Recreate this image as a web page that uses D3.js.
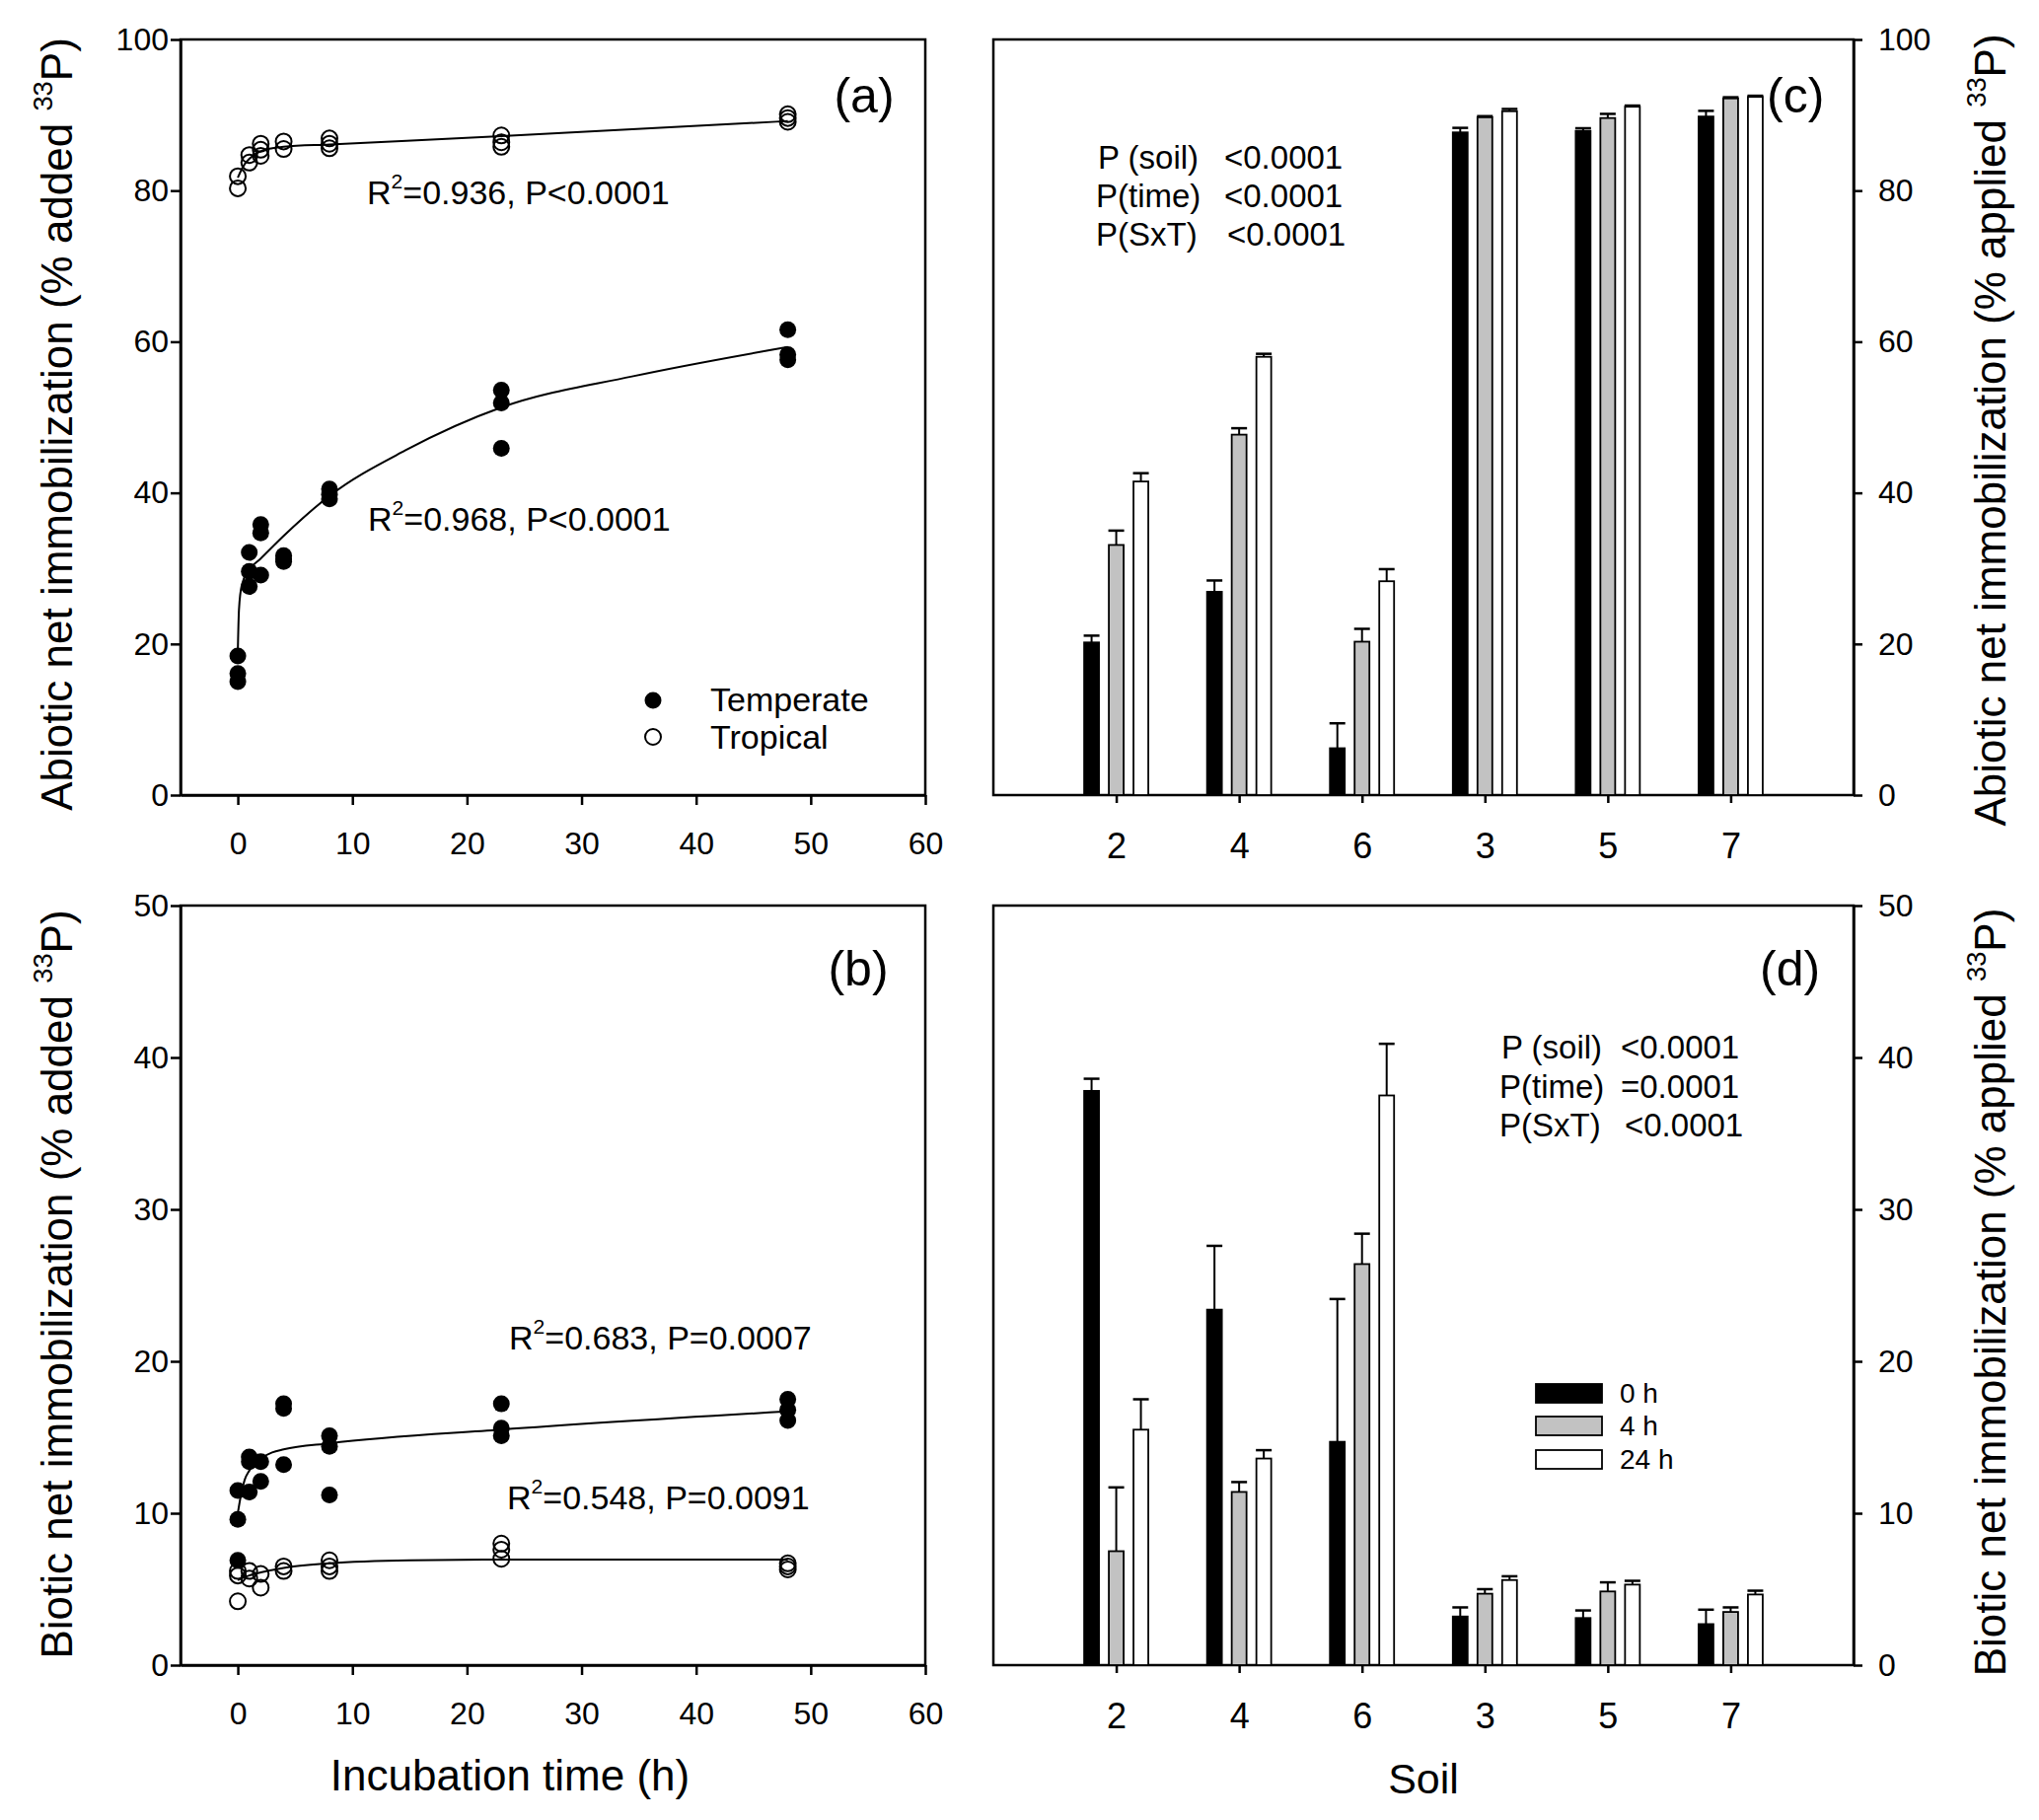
<!DOCTYPE html>
<html>
<head>
<meta charset="utf-8">
<script src="https://cdn.jsdelivr.net/npm/d3@7"></script>
<style>
  body { margin: 0; background: #fff; }
  svg { display: block; }
  text { font-family: "Liberation Sans", Arial, sans-serif; fill: #000; }
</style>
</head>
<body>
<svg id="chart" width="2067" height="1845"></svg>
<script>
// ---- data ----
const times = [0, 1, 2, 4, 8, 23, 48];

// (a) abiotic, individual replicates
const abioticTemperate = [[18.4, 16.1, 15.0], [32.1, 29.6, 27.6], [35.8, 34.7, 29.1], [31.7, 31.2, 30.9], [40.5, 39.8, 39.2], [53.6, 51.9, 45.9], [61.6, 58.3, 57.6]];
const abioticTropical = [[81.9, 80.3], [84.7, 83.7], [86.2, 85.4, 84.6], [86.5, 85.5], [86.9, 86.2, 85.6], [87.3, 86.4, 85.8], [90.1, 89.6, 89.1]];
// (b) biotic, individual replicates
const bioticTemperate = [[11.5, 9.6, 6.9], [13.7, 13.4, 11.4], [13.4, 12.1], [17.2, 16.9, 13.2], [15.1, 14.4, 11.2], [17.2, 15.6, 15.1], [17.5, 16.8, 16.1]];
const bioticTropical = [[6.2, 5.9, 4.2], [6.2, 5.7], [6.0, 5.1], [6.5, 6.2], [6.9, 6.5, 6.2], [8.0, 7.6, 7.0], [6.7, 6.5, 6.3]];

// fitted curves, read as points along the drawn lines
const fitTempA_x = [0, 0.1, 0.35, 1, 2, 4, 8, 14.6, 23, 34.4, 48];
const fitTempA_y = [19, 24.5, 27.8, 29.8, 31.3, 34.3, 39.6, 45.6, 51.3, 55.4, 59.3];
const fitTropA_x = [0, 0.3, 0.6, 1, 1.5, 2, 3, 4, 8, 23, 48];
const fitTropA_y = [81.7, 82.7, 83.5, 84.2, 84.8, 85.2, 85.6, 85.8, 86.1, 87.2, 89.2];
const fitTempB_x = [0, 0.3, 0.6, 1, 1.5, 2, 3, 4, 8, 23, 48];
const fitTempB_y = [10.0, 11.3, 12.2, 12.8, 13.3, 13.6, 14.0, 14.2, 14.6, 15.5, 16.7];
const fitTropB_x = [0, 1, 2, 4, 8, 15, 23, 48];
const fitTropB_y = [5.6, 5.9, 6.1, 6.4, 6.7, 6.9, 6.95, 6.95];

// (c) and (d) bar charts
const soils = ["2", "4", "6", "3", "5", "7"];
const hours = ["0 h", "4 h", "24 h"];
const abiotic0h = [20.2, 26.9, 6.2, 87.7, 87.9, 89.8];
const abiotic4h = [33.1, 47.7, 20.3, 89.7, 89.6, 92.2];
const abiotic24h = [41.5, 58.0, 28.3, 90.5, 91.1, 92.4];
const abioticErr0h = [0.9, 1.5, 3.3, 0.6, 0.35, 0.75];
const abioticErr4h = [1.9, 0.85, 1.7, 0.15, 0.55, 0.15];
const abioticErr24h = [1.1, 0.4, 1.6, 0.3, 0.15, 0.15];
const biotic0h = [37.8, 23.4, 14.7, 3.2, 3.1, 2.7];
const biotic4h = [7.5, 11.4, 26.4, 4.7, 4.85, 3.5];
const biotic24h = [15.5, 13.6, 37.5, 5.6, 5.3, 4.65];
const bioticErr0h = [0.8, 4.2, 9.4, 0.6, 0.5, 0.95];
const bioticErr4h = [4.2, 0.65, 2.0, 0.3, 0.6, 0.3];
const bioticErr24h = [2.0, 0.55, 3.4, 0.25, 0.25, 0.25];

const xTicks = [0, 10, 20, 30, 40, 50, 60];
const yTicks100 = [0, 20, 40, 60, 80, 100];
const yTicks50 = [0, 10, 20, 30, 40, 50];

// ---- layout ----
const svg = d3.select("#chart");
svg.append("rect").attr("width", 2067).attr("height", 1845).attr("fill", "#fff");

const xA = d3.scaleLinear().domain([-5, 60]).range([183, 938]);
const yA = d3.scaleLinear().domain([0, 100]).range([806, 40]);
const yB = d3.scaleLinear().domain([0, 50]).range([1688, 918]);
const xC = d3.scaleLinear().domain([0, 7]).range([1007, 1879]);

const barFill = ["#000", "#c2c2c2", "#fff"];

function frame(x0, x1, y0, y1) {
    svg.append("rect")
        .attr("x", x0).attr("y", y1)
        .attr("width", x1 - x0).attr("height", y0 - y1)
        .attr("fill", "none").attr("stroke", "#000").attr("stroke-width", 2.5);
}

function styleAxis(g, size) {
    g.select(".domain").attr("stroke-width", 2.5);
    g.selectAll(".tick line").attr("stroke-width", 2.5);
    g.selectAll(".tick text").style("font-size", size + "px")
        .style("font-family", '"Liberation Sans", Arial, sans-serif');
}

function supText(sel, parts) {
    // parts: [text, sup, text]
    sel.append("tspan").text(parts[0]);
    sel.append("tspan").attr("dy", "-0.75em").style("font-size", "0.62em").text(parts[1]);
    sel.append("tspan").attr("dy", "0.47em").text(parts[2]);
}

// ---- scatter panels (a) and (b) ----
function scatterPanel(y, yTicks, temperate, tropical, fits) {
    frame(183, 938, y.range()[0], y.range()[1]);
    const gx = svg.append("g").attr("transform", `translate(0,${y.range()[0]})`)
        .call(d3.axisBottom(xA).tickValues(xTicks).tickSize(10).tickPadding(27).tickSizeOuter(0));
    styleAxis(gx, 32);
    const gy = svg.append("g").attr("transform", "translate(183,0)")
        .call(d3.axisLeft(y).tickValues(yTicks).tickSize(10).tickPadding(2).tickSizeOuter(0));
    styleAxis(gy, 32);

    const line = d3.line().x(d => xA(d[0])).y(d => y(d[1])).curve(d3.curveMonotoneX);
    fits.forEach(f => {
        svg.append("path").datum(f[0].map((v, i) => [v, f[1][i]]))
            .attr("d", line).attr("fill", "none").attr("stroke", "#000").attr("stroke-width", 2);
    });

    const ptsT = [], ptsO = [];
    times.forEach((t, i) => {
        temperate[i].forEach(v => ptsT.push([t, v]));
        tropical[i].forEach(v => ptsO.push([t, v]));
    });
    svg.append("g").selectAll("circle").data(ptsT).join("circle")
        .attr("cx", d => xA(d[0])).attr("cy", d => y(d[1])).attr("r", 8.5)
        .attr("fill", "#000");
    svg.append("g").selectAll("circle").data(ptsO).join("circle")
        .attr("cx", d => xA(d[0])).attr("cy", d => y(d[1])).attr("r", 8)
        .attr("fill", "none").attr("stroke", "#000").attr("stroke-width", 2);
}

scatterPanel(yA, yTicks100, abioticTemperate, abioticTropical,
    [[fitTempA_x, fitTempA_y], [fitTropA_x, fitTropA_y]]);
scatterPanel(yB, yTicks50, bioticTemperate, bioticTropical,
    [[fitTempB_x, fitTempB_y], [fitTropB_x, fitTropB_y]]);

// ---- bar panels (c) and (d) ----
function barPanel(y, yTicks, means, errs) {
    frame(1007, 1879, y.range()[0], y.range()[1]);
    const gx = svg.append("g").attr("transform", `translate(0,${y.range()[0]})`)
        .call(d3.axisBottom(xC).tickValues([1, 2, 3, 4, 5, 6]).tickFormat(i => soils[i - 1])
            .tickSize(8).tickPadding(30).tickSizeOuter(0));
    styleAxis(gx, 36);
    gx.select(".domain").remove();
    const gy = svg.append("g").attr("transform", "translate(1879,0)")
        .call(d3.axisRight(y).tickValues(yTicks).tickSize(9).tickPadding(16).tickSizeOuter(0));
    styleAxis(gy, 32);

    means.forEach((series, s) => {
        const off = (s - 1) * 25;
        const g = svg.append("g");
        g.selectAll("line.err").data(series).join("line")
            .attr("x1", (d, i) => xC(i + 1) + off).attr("x2", (d, i) => xC(i + 1) + off)
            .attr("y1", d => y(d)).attr("y2", (d, i) => y(d + errs[s][i]))
            .attr("stroke", "#000").attr("stroke-width", 2);
        g.selectAll("line.cap").data(series).join("line")
            .attr("x1", (d, i) => xC(i + 1) + off - 8).attr("x2", (d, i) => xC(i + 1) + off + 8)
            .attr("y1", (d, i) => y(d + errs[s][i])).attr("y2", (d, i) => y(d + errs[s][i]))
            .attr("stroke", "#000").attr("stroke-width", 2.5);
        g.selectAll("rect").data(series).join("rect")
            .attr("x", (d, i) => xC(i + 1) + off - 7.5).attr("width", 15)
            .attr("y", d => y(d)).attr("height", d => y(0) - y(d))
            .attr("fill", barFill[s]).attr("stroke", "#000").attr("stroke-width", 1.8);
    });
}

barPanel(yA, yTicks100, [abiotic0h, abiotic4h, abiotic24h], [abioticErr0h, abioticErr4h, abioticErr24h]);
barPanel(yB, yTicks50, [biotic0h, biotic4h, biotic24h], [bioticErr0h, bioticErr4h, bioticErr24h]);

// ---- text ----
function label(x, yPos, txt, size, anchor) {
    return svg.append("text").attr("x", x).attr("y", yPos)
        .attr("text-anchor", anchor || "start").style("font-size", size + "px").text(txt);
}

label(876, 114, "(a)", 50, "middle");
label(1791, 114, "(c)", 50);
label(870, 999, "(b)", 50, "middle");
label(1784, 999, "(d)", 50);

// R2 annotations
[[372, 207, "0.936, P<0.0001"], [373, 538, "0.968, P<0.0001"],
 [516, 1368, "0.683, P=0.0007"], [514, 1530, "0.548, P=0.0091"]].forEach(r => {
    const t = svg.append("text").attr("x", r[0]).attr("y", r[1]).style("font-size", "34px");
    supText(t, ["R", "2", "=" + r[2]]);
});

// legend (a)
svg.append("circle").attr("cx", 662).attr("cy", 710).attr("r", 8.5).attr("fill", "#000");
svg.append("circle").attr("cx", 662).attr("cy", 747).attr("r", 8).attr("fill", "none")
    .attr("stroke", "#000").attr("stroke-width", 2);
label(720, 721, "Temperate", 34);
label(720, 759, "Tropical", 34);

// ANOVA text (c)
label(1113, 171, "P (soil)", 33); label(1241, 171, "<0.0001", 33);
label(1111, 210, "P(time)", 33); label(1241, 210, "<0.0001", 33);
label(1111, 249, "P(SxT)", 33); label(1244, 249, "<0.0001", 33);
// ANOVA text (d)
label(1522, 1073, "P (soil)", 33); label(1643, 1073, "<0.0001", 33);
label(1520, 1113, "P(time)", 33); label(1643, 1113, "=0.0001", 33);
label(1520, 1152, "P(SxT)", 33); label(1647, 1152, "<0.0001", 33);

// legend (d)
const legY = [1403, 1436, 1470];
hours.forEach((h, i) => {
    svg.append("rect").attr("x", 1557).attr("y", legY[i]).attr("width", 67).attr("height", 19)
        .attr("fill", barFill[i]).attr("stroke", "#000").attr("stroke-width", 1.8);
    label(1642, legY[i] + 19, h, 28);
});

// axis titles
function vTitle(x, yc, head) {
    const t = svg.append("text").attr("transform", `translate(${x},${yc}) rotate(-90)`)
        .attr("text-anchor", "middle").style("font-size", "44px");
    supText(t, [head, "33", "P)"]);
}
vTitle(73, 430, "Abiotic net immobilization (% added ");
vTitle(73, 1302, "Biotic net immobilization (% added ");
vTitle(2033, 436, "Abiotic net immobilization (% applied ");
vTitle(2033, 1310, "Biotic net immobilization (% applied ");

label(517, 1815, "Incubation time (h)", 44, "middle");
label(1443, 1818, "Soil", 43, "middle");
</script>
</body>
</html>
